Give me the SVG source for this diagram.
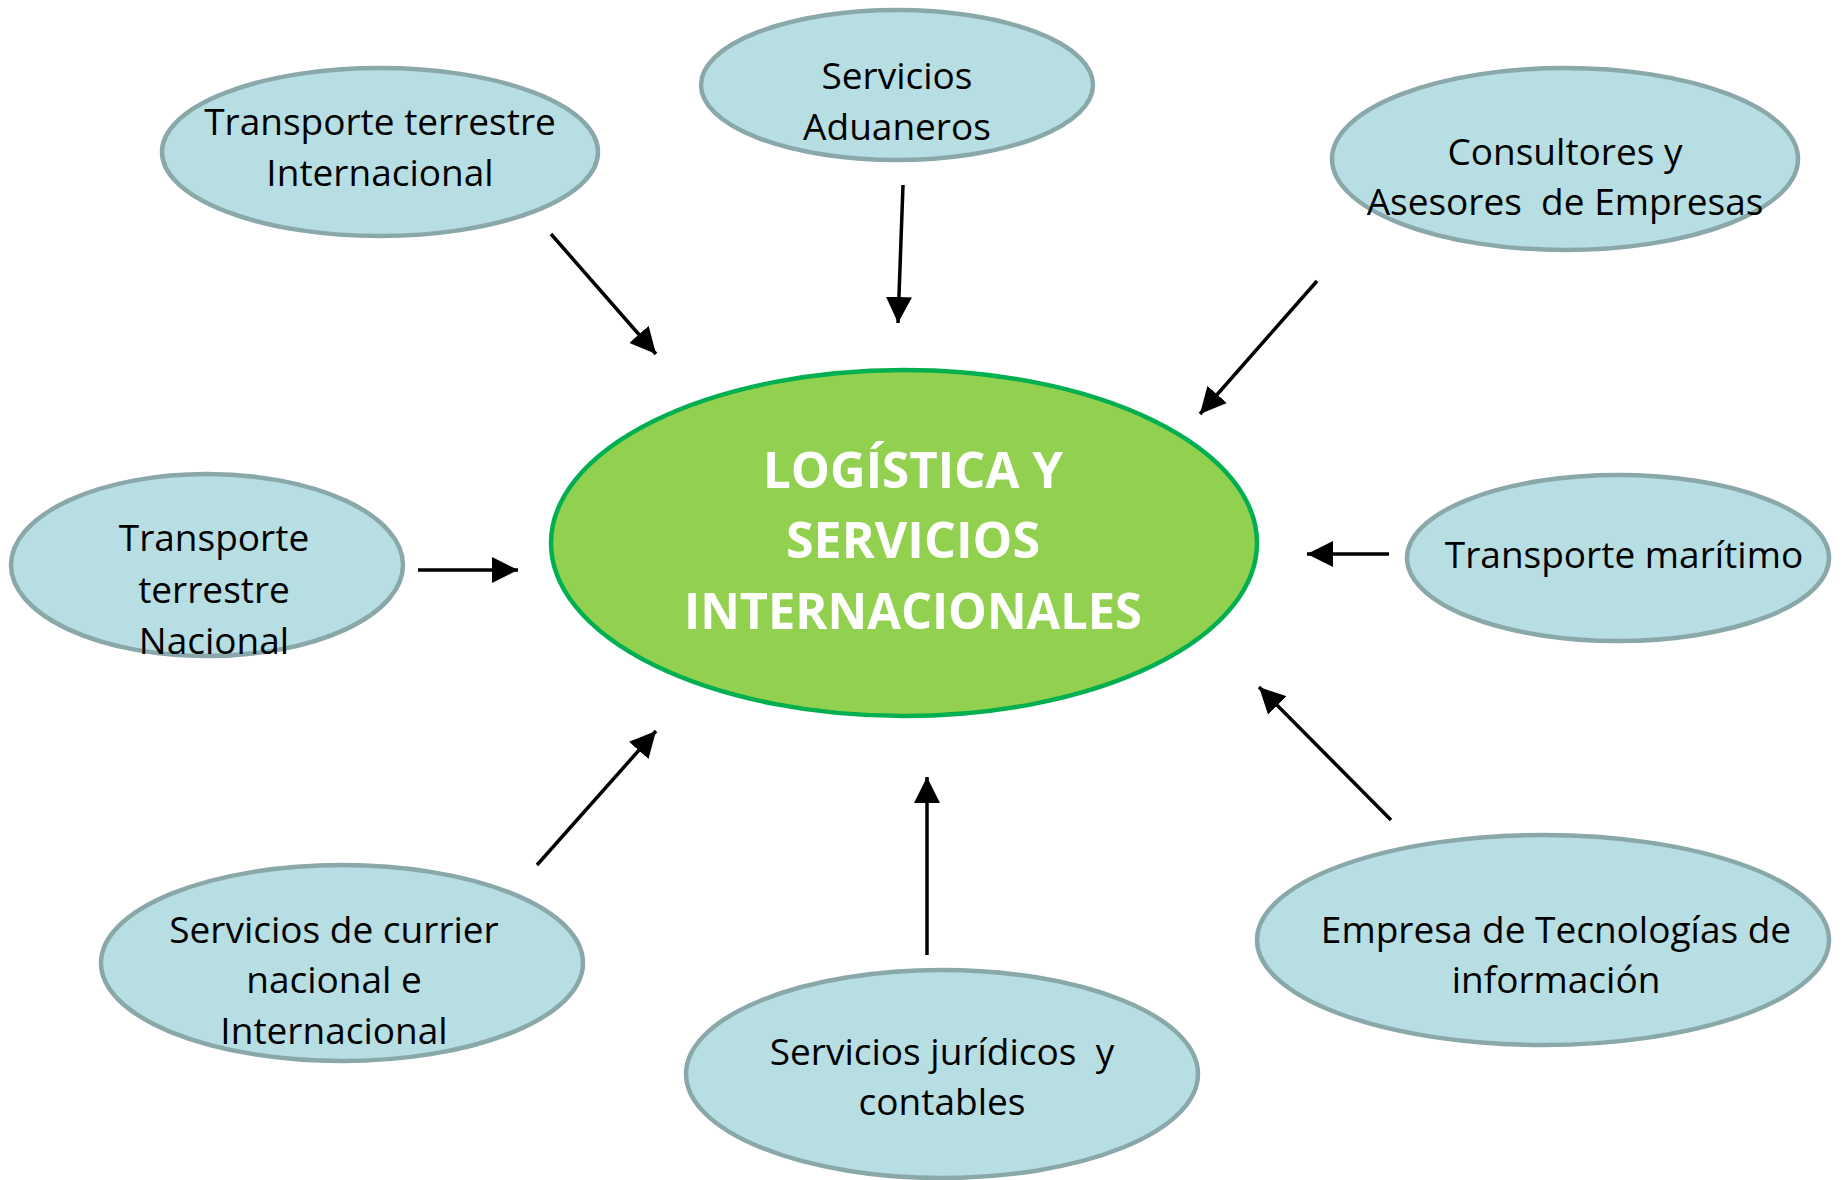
<svg xmlns="http://www.w3.org/2000/svg" width="1843" height="1180" viewBox="0 0 1843 1180">
<style>
.node ellipse{fill:#B7DEE2;stroke:#8AA7A9;stroke-width:4.5}
.node text{font-family:"Open Sans","Liberation Sans",sans-serif;font-size:37px;fill:#000;text-anchor:middle;white-space:pre}
#center ellipse{fill:#92D050;stroke:#00B050;stroke-width:4.5}
#center text{font-family:"Open Sans","Liberation Sans",sans-serif;font-weight:bold;font-size:50px;fill:#fff;text-anchor:middle}
#connectors line{stroke:#000;stroke-width:3.5;marker-end:url(#ah)}
</style>
<defs>
<marker id="ah" markerUnits="userSpaceOnUse" markerWidth="28" markerHeight="26" refX="26" refY="13" orient="auto">
<path d="M0,0 L26,13 L0,26 z" fill="#000"/>
</marker>
</defs>
<rect width="1843" height="1180" fill="#fff"/>
<g id="connectors">
<line x1="551" y1="234" x2="656" y2="354"/>
<line x1="903" y1="185" x2="898" y2="323"/>
<line x1="1317" y1="281" x2="1200" y2="414"/>
<line x1="418" y1="570" x2="518" y2="570"/>
<line x1="1389" y1="554" x2="1307" y2="554"/>
<line x1="537" y1="865" x2="656" y2="731"/>
<line x1="927" y1="955" x2="927" y2="777"/>
<line x1="1391" y1="820" x2="1259" y2="687"/>
</g>
<g id="center">
<ellipse cx="904" cy="543" rx="353" ry="173"/>
<text x="913" y="488" textLength="300" lengthAdjust="spacingAndGlyphs">LOGÍSTICA Y</text>
<text x="913" y="558" textLength="254" lengthAdjust="spacingAndGlyphs">SERVICIOS</text>
<text x="913" y="629" textLength="458" lengthAdjust="spacingAndGlyphs">INTERNACIONALES</text>
</g>
<g id="n1" class="node">
<ellipse cx="380" cy="152" rx="218" ry="84"/>
<text x="380" y="135">Transporte terrestre</text>
<text x="380" y="186">Internacional</text>
</g>
<g id="n2" class="node">
<ellipse cx="897" cy="85" rx="196" ry="75"/>
<text x="897" y="89">Servicios</text>
<text x="897" y="140">Aduaneros</text>
</g>
<g id="n3" class="node">
<ellipse cx="1565" cy="159" rx="233" ry="91"/>
<text x="1565" y="165">Consultores y</text>
<text x="1565" y="215">Asesores  de Empresas</text>
</g>
<g id="n4" class="node">
<ellipse cx="207" cy="565" rx="196" ry="91"/>
<text x="214" y="551">Transporte</text>
<text x="214" y="603">terrestre</text>
<text x="214" y="654">Nacional</text>
</g>
<g id="n5" class="node">
<ellipse cx="1618" cy="558" rx="211" ry="83"/>
<text x="1624" y="568">Transporte marítimo</text>
</g>
<g id="n6" class="node">
<ellipse cx="342" cy="963" rx="241" ry="98"/>
<text x="334" y="943">Servicios de currier</text>
<text x="334" y="993">nacional e</text>
<text x="334" y="1044">Internacional</text>
</g>
<g id="n7" class="node">
<ellipse cx="942" cy="1074" rx="256" ry="104"/>
<text x="942" y="1065">Servicios jurídicos  y</text>
<text x="942" y="1115">contables</text>
</g>
<g id="n8" class="node">
<ellipse cx="1543" cy="940" rx="286" ry="105"/>
<text x="1556" y="943">Empresa de Tecnologías de</text>
<text x="1556" y="993">información</text>
</g>
</svg>
